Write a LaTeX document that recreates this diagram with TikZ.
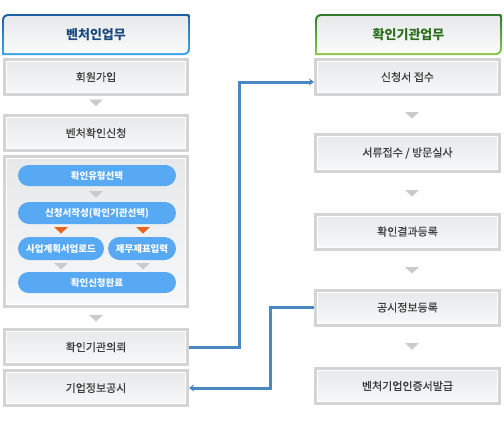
\documentclass[tikz,border=0pt]{standalone}
\usepackage{fontspec}
\setmainfont{Noto Sans CJK KR}
\newfontfamily\krmed{Noto Sans CJK KR}[FakeBold=0.5]
\usetikzlibrary{arrows.meta,shapes.misc,backgrounds}
\definecolor{boxgray}{HTML}{D4D4D4}
\definecolor{fillTop}{HTML}{E7E8E9}
\definecolor{fillBot}{HTML}{F7F8F9}
\definecolor{txtgray}{HTML}{3E3E3E}
\definecolor{blueD}{HTML}{1E5E9E}
\definecolor{blueL}{HTML}{3CA6EE}
\definecolor{greenD}{HTML}{2E7A2A}
\definecolor{greenL}{HTML}{8CCB4E}
\definecolor{hblue}{HTML}{1B4A80}
\definecolor{hgreen}{HTML}{2D6E1E}
\definecolor{pillblue}{HTML}{57A9F3}
\definecolor{orangeT}{HTML}{E8651F}
\definecolor{trigray}{HTML}{CACACA}
\definecolor{connblue}{HTML}{4A88C2}
\newcommand\hdrpath[4]{(#1,#4) -- (#1,{#2+6}) arc[start angle=180,end angle=90,radius=6pt] -- ({#3-2},#2) arc[start angle=90,end angle=0,radius=2pt] -- (#3,{#4-6}) arc[start angle=0,end angle=-90,radius=6pt] -- cycle}
\newcommand\hdrinner[4]{(#1,#4) -- (#1,{#2+4}) arc[start angle=180,end angle=90,radius=4pt] -- ({#3-1},#2) arc[start angle=90,end angle=0,radius=1pt] -- (#3,{#4-4}) arc[start angle=0,end angle=-90,radius=4pt] -- cycle}
\tikzset{
  stepbox/.style={draw=boxgray, line width=3pt, top color=fillTop, bottom color=fillBot,
    minimum width=183pt, minimum height=35pt, inner sep=0pt,
    font=\krmed\fontsize{11}{13}\selectfont, text=txtgray,
    path picture={\draw[white,line width=1.1pt] ([shift={(2.2pt,-2.2pt)}]path picture bounding box.north west) rectangle ([shift={(-2.2pt,2.2pt)}]path picture bounding box.south east);}},
  rstepbox/.style={stepbox, minimum width=184pt},
  pill/.style={rounded rectangle, fill=pillblue, text=white, inner sep=0pt,
    minimum height=21pt, font=\fontsize{9.5}{11}\selectfont\bfseries},
  hdrtext/.style={inner sep=0pt, font=\fontsize{13}{15}\selectfont\bfseries},
  conn/.style={draw=connblue, line width=3pt},
  tri/.pic={\fill[pic actions] (-7,0) -- (7,0) -- (0,6.5) -- cycle;}
}
\begin{document}
\begin{tikzpicture}[x=1pt,y=-1pt]
\useasboundingbox[fill=white] (0,0) rectangle (504,424);
% headers
\shade[top color=blueD, bottom color=blueL] \hdrpath{2}{14}{190}{55};
\shade[top color=fillTop, bottom color=fillBot!60!white] \hdrinner{4}{16}{188}{53};
\node[hdrtext, text=hblue] (hl) at (96,34.5) {벤처인업무};
\shade[top color=greenD, bottom color=greenL] \hdrpath{315}{14}{502}{55};
\shade[top color=fillTop, bottom color=fillBot!60!white] \hdrinner{317}{16}{500}{53};
\node[hdrtext, text=hgreen] (hr) at (408.5,34.5) {확인기관업무};
% left column
\node[stepbox] (join) at (96,77) {회원가입};
\node[stepbox] (apply) at (96,133) {벤처확인신청};
\node[stepbox, minimum height=150pt] (cont) at (96,231.5) {};
\node[stepbox] (ask) at (96,347) {확인기관의뢰};
\node[stepbox] (disc) at (96,388) {기업정보공시};
% pills
\node[pill, minimum width=158pt] (p1) at (97,175.5) {확인유형선택};
\node[pill, minimum width=158pt, minimum height=22pt] (p2) at (97,213) {신청서작성(확인기관선택)};
\node[pill, minimum width=86pt, minimum height=23pt] (p3) at (61,248.5) {사업계획서업로드};
\node[pill, minimum width=68pt, minimum height=23pt] (p4) at (142,248.5) {제무제표입력};
\node[pill, minimum width=158pt] (p5) at (97,282.5) {확인신청완료};
% right column
\node[rstepbox] (recv) at (407.5,77) {신청서 접수};
\node[rstepbox, minimum height=37pt] (doc) at (407.5,153) {서류접수 / 방문실사};
\node[rstepbox] (res) at (407.5,231.5) {확인결과등록};
\node[rstepbox] (pub) at (407.5,307.5) {공시정보등록};
\node[rstepbox] (cert) at (407.5,386) {벤처기업인증서발급};
% triangles
\pic[fill=trigray] at (96,99.5) {tri};
\pic[fill=trigray] at (96,315) {tri};
\pic[fill=trigray] at (96,191) {tri};
\pic[fill=orangeT] at (61,227) {tri};
\pic[fill=orangeT] at (143,227) {tri};
\pic[fill=trigray] at (61,263) {tri};
\pic[fill=trigray] at (143,263) {tri};
\pic[fill=trigray] at (412,112) {tri};
\pic[fill=trigray] at (412,190) {tri};
\pic[fill=trigray] at (412,267) {tri};
\pic[fill=trigray] at (412,343) {tri};
% connectors
\draw[conn, -{Stealth[length=5pt,width=7pt]}] (ask.east) -- ++(50,0) |- ([yshift=-5pt]recv.west);
\draw[conn, -{Stealth[length=5pt,width=7pt]}] (pub.west) -- ++(-44,0) |- (disc.east);
\end{tikzpicture}
\end{document}
